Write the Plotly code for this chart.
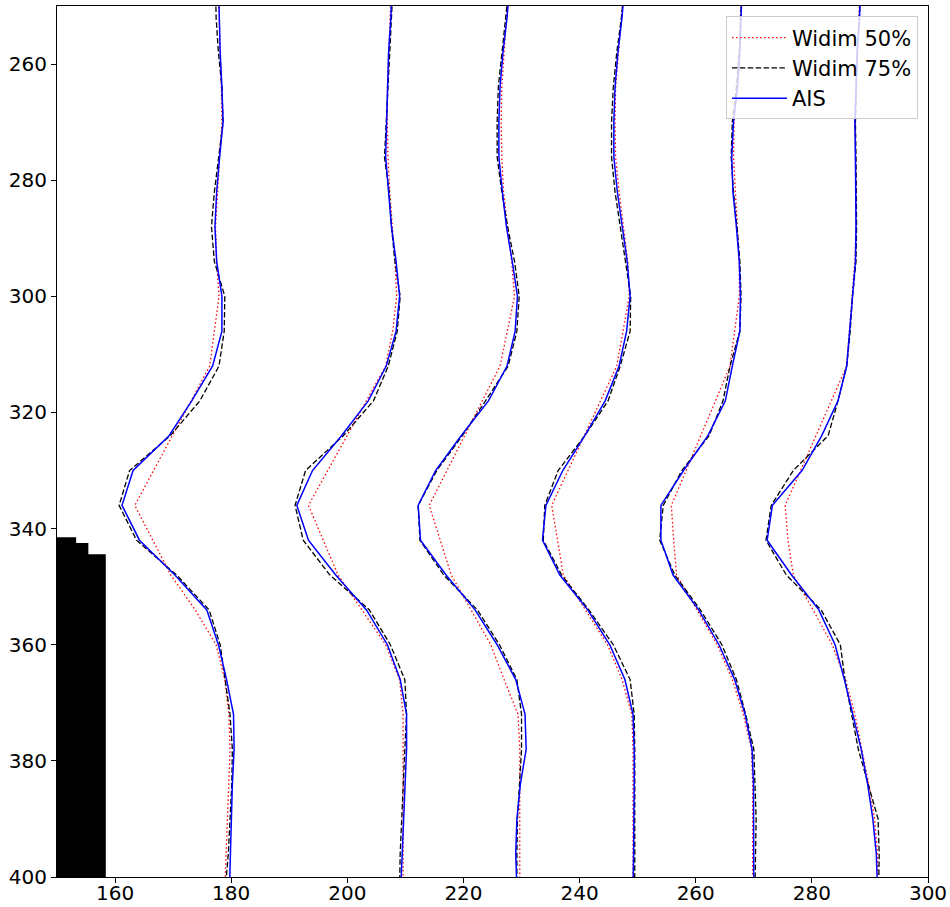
import plotly.graph_objects as go

# Depth stations shared by every profile (y axis, increasing downward)
depth = [246, 252, 258, 264, 270, 276, 282, 288, 294, 300, 306, 312, 318, 324,
         330, 336, 342, 348, 354, 360, 366, 372, 378, 384, 390, 396, 402]

# Widim 50% profiles
widim50_p1 = [177.8, 177.9, 178.1, 178.3, 178.4, 178.0, 177.6, 177.3, 177.5, 177.9, 177.1, 176.3, 173.1, 169.9,
              166.6, 163.4, 166.5, 169.6, 173.8, 177.4, 178.9, 179.6, 179.8, 179.6, 179.4, 179.1, 178.9]
widim50_p2 = [207.6, 207.4, 207.1, 206.9, 206.9, 207.0, 207.3, 207.8, 208.2, 208.5, 207.8, 206.6, 203.3, 199.95,
              196.6, 193.3, 195.85, 198.4, 202.5, 206.6, 209.0, 209.6, 209.6, 209.6, 209.6, 209.6, 209.6]
widim50_p3 = [227.8, 227.4, 226.9, 226.6, 226.5, 226.6, 226.9, 227.6, 228.3, 228.8, 227.6, 226.3, 223.25, 220.2,
              217.15, 214.1, 216.0, 217.9, 221.3, 224.7, 227.0, 229.4, 229.7, 229.7, 229.7, 229.7, 229.7]
widim50_p4 = [247.7, 247.2, 246.6, 246.2, 246.1, 246.2, 246.8, 247.6, 248.3, 248.55, 247.5, 246.4, 243.6, 240.8,
              238.0, 235.2, 236.2, 237.2, 241.0, 244.8, 247.3, 249.0, 249.2, 249.2, 249.2, 249.2, 249.2]
widim50_p5 = [267.9, 267.7, 267.5, 267.1, 266.6, 266.5, 266.8, 267.2, 267.5, 267.5, 266.7, 265.9, 263.4, 260.85,
              258.3, 255.8, 256.2, 256.7, 260.2, 263.7, 266.3, 268.2, 269.6, 269.8, 269.8, 269.8, 269.8]
widim50_p6 = [288.3, 288.1, 287.8, 287.6, 287.5, 287.5, 287.6, 287.6, 287.4, 286.9, 286.5, 286.0, 283.35, 280.7,
              278.05, 275.4, 275.9, 276.8, 280.2, 283.5, 285.8, 287.4, 288.6, 289.8, 290.8, 291.3, 291.4]

# Widim 75% profiles
widim75_p1 = [177.3, 177.4, 177.8, 178.4, 178.6, 177.8, 177.1, 176.6, 177.1, 178.9, 178.8, 177.9, 174.6, 169.5,
              162.5, 160.7, 163.7, 170.6, 176.2, 178.1, 179.0, 179.8, 180.2, 180.1, 179.8, 179.5, 179.0]
widim75_p2 = [207.9, 207.6, 207.2, 206.9, 206.6, 206.4, 207.2, 207.6, 208.2, 209.1, 208.6, 207.05, 204.5, 199.3,
              192.8, 191.0, 192.4, 197.0, 203.8, 207.4, 209.9, 210.2, 209.9, 209.6, 209.35, 209.1, 209.0]
widim75_p3 = [227.9, 227.3, 226.6, 226.0, 225.8, 225.8, 226.6, 227.6, 228.8, 229.6, 229.2, 227.7, 223.8, 219.8,
              215.4, 212.2, 212.5, 216.6, 222.4, 226.2, 229.2, 230.0, 230.0, 229.6, 229.3, 229.2, 229.2]
widim75_p4 = [247.8, 247.2, 246.4, 245.8, 245.5, 245.5, 246.1, 247.0, 248.0, 248.8, 248.7, 247.0, 244.9, 240.9,
              236.3, 234.0, 233.75, 236.9, 241.6, 245.8, 248.7, 249.4, 249.5, 249.5, 249.5, 249.5, 249.5]
widim75_p5 = [268.0, 267.8, 267.5, 267.0, 266.3, 266.1, 266.5, 267.1, 267.6, 267.8, 267.6, 265.9, 264.7, 262.3,
              257.6, 254.4, 253.8, 256.4, 260.8, 264.5, 267.0, 268.6, 270.0, 270.2, 270.4, 270.3, 270.2]
widim75_p6 = [288.4, 288.2, 287.8, 287.6, 287.5, 287.6, 287.7, 287.7, 287.6, 287.0, 286.6, 286.0, 284.5, 282.8,
              276.8, 273.0, 272.1, 275.6, 281.6, 284.9, 285.7, 286.85, 288.0, 289.7, 291.4, 291.6, 291.5]

# AIS profiles
ais_p1 = [177.8, 177.9, 178.1, 178.4, 178.6, 178.0, 177.5, 177.2, 177.5, 178.4, 178.4, 176.8, 173.2, 169.3,
          163.1, 161.2, 164.2, 170.3, 175.8, 177.8, 179.2, 180.4, 180.5, 180.2, 180.0, 179.85, 179.7]
ais_p2 = [207.7, 207.5, 207.1, 206.9, 206.8, 206.6, 207.1, 207.6, 208.4, 209.0, 208.4, 206.7, 203.6, 199.0,
          194.0, 191.3, 193.3, 198.0, 203.3, 206.9, 209.1, 210.2, 210.2, 209.95, 209.6, 209.35, 209.2]
ais_p3 = [228.0, 227.5, 226.8, 226.3, 226.1, 226.1, 226.7, 227.4, 228.4, 229.3, 228.9, 227.5, 224.3, 219.6,
          215.2, 212.2, 212.6, 217.0, 222.0, 225.8, 229.0, 230.6, 230.8, 229.8, 229.2, 229.0, 229.2]
ais_p4 = [247.8, 247.3, 246.6, 246.1, 245.9, 245.9, 246.5, 247.4, 248.2, 248.7, 248.1, 246.8, 244.4, 240.9,
          237.1, 234.2, 233.6, 236.6, 241.4, 245.2, 247.8, 249.2, 249.4, 249.4, 249.4, 249.3, 249.2]
ais_p5 = [268.0, 267.8, 267.6, 267.2, 266.5, 266.2, 266.4, 267.0, 267.5, 267.7, 267.6, 266.3, 265.1, 262.1,
          257.9, 254.0, 254.0, 256.1, 260.5, 264.0, 266.7, 268.5, 269.7, 269.95, 270.0, 270.0, 270.0]
ais_p6 = [288.4, 288.2, 287.8, 287.6, 287.4, 287.5, 287.6, 287.6, 287.5, 287.0, 286.6, 286.0, 284.5, 281.7,
          278.3, 273.2, 272.3, 276.5, 281.2, 284.0, 285.6, 287.1, 288.5, 289.6, 290.5, 291.1, 291.3]

# Stepped obstacle outline at the lower left
obstacle_x = [150, 153.3, 153.3, 155.4, 155.4, 158.4, 158.4, 150, 150]
obstacle_y = [341.5, 341.5, 342.5, 342.5, 344.4, 344.4, 400, 400, 341.5]

xticks = [160, 180, 200, 220, 240, 260, 280, 300]
yticks = [260, 280, 300, 320, 340, 360, 380, 400]

series = [
    ("Widim 50%", [widim50_p1, widim50_p2, widim50_p3, widim50_p4, widim50_p5, widim50_p6],
     dict(color="#ff0000", width=1.3, dash="1.5px,2.5px")),
    ("Widim 75%", [widim75_p1, widim75_p2, widim75_p3, widim75_p4, widim75_p5, widim75_p6],
     dict(color="#000000", width=1.3, dash="5.5px,2.4px")),
    ("AIS", [ais_p1, ais_p2, ais_p3, ais_p4, ais_p5, ais_p6],
     dict(color="#0000ff", width=1.5)),
]

fig = go.Figure()

fig.add_trace(go.Scatter(x=obstacle_x, y=obstacle_y, mode="lines", fill="toself",
                         fillcolor="black", line=dict(width=0, color="black"),
                         showlegend=False, hoverinfo="skip"))

for name, profiles, line in series:
    for i, prof in enumerate(profiles):
        fig.add_trace(go.Scatter(x=prof, y=depth, mode="lines", name=name,
                                 legendgroup=name, showlegend=(i == 0), line=line))

axis_common = dict(showline=True, linecolor="black", linewidth=1, mirror=True,
                   ticks="outside", ticklen=5, tickwidth=1, tickcolor="black",
                   showgrid=False, zeroline=False, automargin=False,
                   tickfont=dict(family="DejaVu Sans", size=20, color="black"))

fig.update_xaxes(range=[150, 300], tickvals=xticks, ticklabelstandoff=-7, **axis_common)
fig.update_yaxes(range=[400, 250], tickvals=yticks, **axis_common)

fig.update_layout(
    width=950, height=907,
    margin=dict(l=57, r=22, t=6, b=30),
    plot_bgcolor="white", paper_bgcolor="white",
    legend=dict(x=0.9885, y=0.988, xanchor="right", yanchor="top",
                bgcolor="rgba(255,255,255,0.8)", bordercolor="#cccccc", borderwidth=1,
                font=dict(family="DejaVu Sans", size=21, color="black"),
                tracegroupgap=0, itemwidth=55),
)

fig.write_html("out.html")
